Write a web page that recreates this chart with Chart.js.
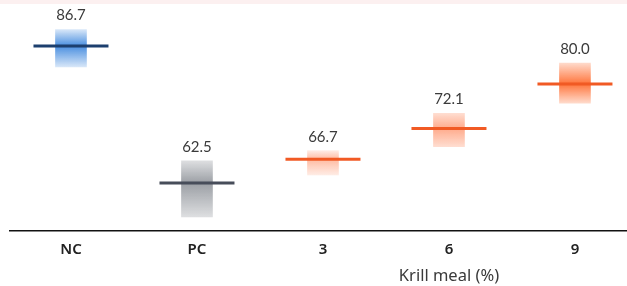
<!DOCTYPE html>
<html>
<head>
<meta charset="utf-8">
<script src="https://cdn.jsdelivr.net/npm/chart.js@4/dist/chart.umd.min.js"></script>
<style>
  html, body { margin: 0; padding: 0; background: #fff; }
  #wrap { position: relative; width: 627px; height: 286px; }
  #strip { position: absolute; left: 0; top: 0; width: 627px; height: 4px; background: #fcf0f0; }
  canvas { position: absolute; left: 0; top: 0; }
</style>
</head>
<body>
<div id="wrap">
  <div id="strip"></div>
  <canvas id="chart" width="627" height="286"></canvas>
</div>
<script>
// data
var categories = ['NC', 'PC', '3', '6', '9']
var means = [86.7, 62.5, 66.7, 72.1, 80.0]
var lows = [83.0, 56.5, 63.9, 68.9, 76.6]
var highs = [89.6, 66.4, 68.2, 74.8, 83.7]

// look
var lineColors = ['#1c3f6e', '#474d5a', '#f15a24', '#f15a24', '#f15a24']
var boxRgb = ['74,143,224', '150,154,160', '255,120,70', '255,120,70', '255,110,50']
var boxEdge = [0.22, 0.32, 0.14, 0.25, 0.25]
var boxMid = [1.0, 0.95, 0.5, 0.62, 0.95]

function boxdata() {
    var rtr = []
    for (var i = 0; i < categories.length; i++) {
        rtr.push({x: i, y: [lows[i], highs[i]]})
    }
    return rtr
}
function meandata() {
    var rtr = []
    for (var i = 0; i < categories.length; i++) {
        rtr.push({x: i, y: means[i]})
    }
    return rtr
}

function boxgradient(context) {
    var chart = context.chart
    if (!chart.chartArea || context.dataIndex === undefined) return 'rgba(0,0,0,0)'
    var i = context.dataIndex
    var ys = chart.scales.y
    var top = ys.getPixelForValue(highs[i])
    var bottom = ys.getPixelForValue(lows[i])
    var mid = (ys.getPixelForValue(means[i]) - top) / (bottom - top)
    mid = Math.max(0.05, Math.min(0.95, mid))
    var g = chart.ctx.createLinearGradient(0, top, 0, bottom)
    g.addColorStop(0, 'rgba(' + boxRgb[i] + ',' + boxEdge[i] + ')')
    g.addColorStop(mid, 'rgba(' + boxRgb[i] + ',' + boxMid[i] + ')')
    g.addColorStop(1, 'rgba(' + boxRgb[i] + ',' + boxEdge[i] + ')')
    return g
}

var valueLabels = {
    id: 'valueLabels',
    afterDatasetsDraw: function (chart) {
        var ctx = chart.ctx
        var xs = chart.scales.x
        var ys = chart.scales.y
        ctx.save()
        ctx.font = '15px Lato, "Noto Sans", sans-serif'
        ctx.fillStyle = '#3a3a3a'
        ctx.textAlign = 'center'
        ctx.textBaseline = 'middle'
        for (var i = 0; i < categories.length; i++) {
            ctx.fillText(means[i].toFixed(1), xs.getPixelForValue(i), ys.getPixelForValue(highs[i]) - 14)
        }
        // axis title sits under the "6" tick
        ctx.font = '16.5px "Noto Sans", sans-serif'
        ctx.fillStyle = '#3a3a3a'
        ctx.fillText('Krill meal (%)', xs.getPixelForValue(3), 276)
        ctx.restore()
    }
}

var config = {
    data: {
        datasets: [
            {
                type: 'line',
                data: meandata(),
                showLine: false,
                clip: false,
                pointStyle: 'line',
                pointRadius: 37.5,
                pointHoverRadius: 37.5,
                pointBorderWidth: 3,
                pointHoverBorderWidth: 3,
                pointBorderColor: lineColors,
                pointBackgroundColor: lineColors,
                order: 0
            },
            {
                type: 'bar',
                data: boxdata(),
                barThickness: 31,
                backgroundColor: boxgradient,
                borderWidth: 0,
                order: 1
            }
        ]
    },
    options: {
        responsive: false,
        animation: false,
        layout: {
            autoPadding: false,
            padding: {left: 10, right: 0, top: 16, bottom: 17}
        },
        plugins: {
            legend: {display: false},
            tooltip: {enabled: false}
        },
        scales: {
            x: {
                type: 'linear',
                offset: false,
                min: -0.484,
                max: 4.413,
                grid: {display: false, drawTicks: false},
                border: {display: true, color: '#111', width: 1.5},
                afterBuildTicks: function (scale) {
                    scale.ticks = categories.map(function (c, i) { return {value: i} })
                },
                ticks: {
                    padding: 10,
                    color: '#222',
                    font: {family: '"Noto Sans", sans-serif', size: 15, weight: '600'},
                    callback: function (value) { return categories[value] }
                }
            },
            y: {
                display: false,
                min: 54,
                max: 92
            }
        }
    },
    plugins: [valueLabels]
}

var chart = new Chart(document.getElementById('chart').getContext('2d'), config)
</script>
</body>
</html>
